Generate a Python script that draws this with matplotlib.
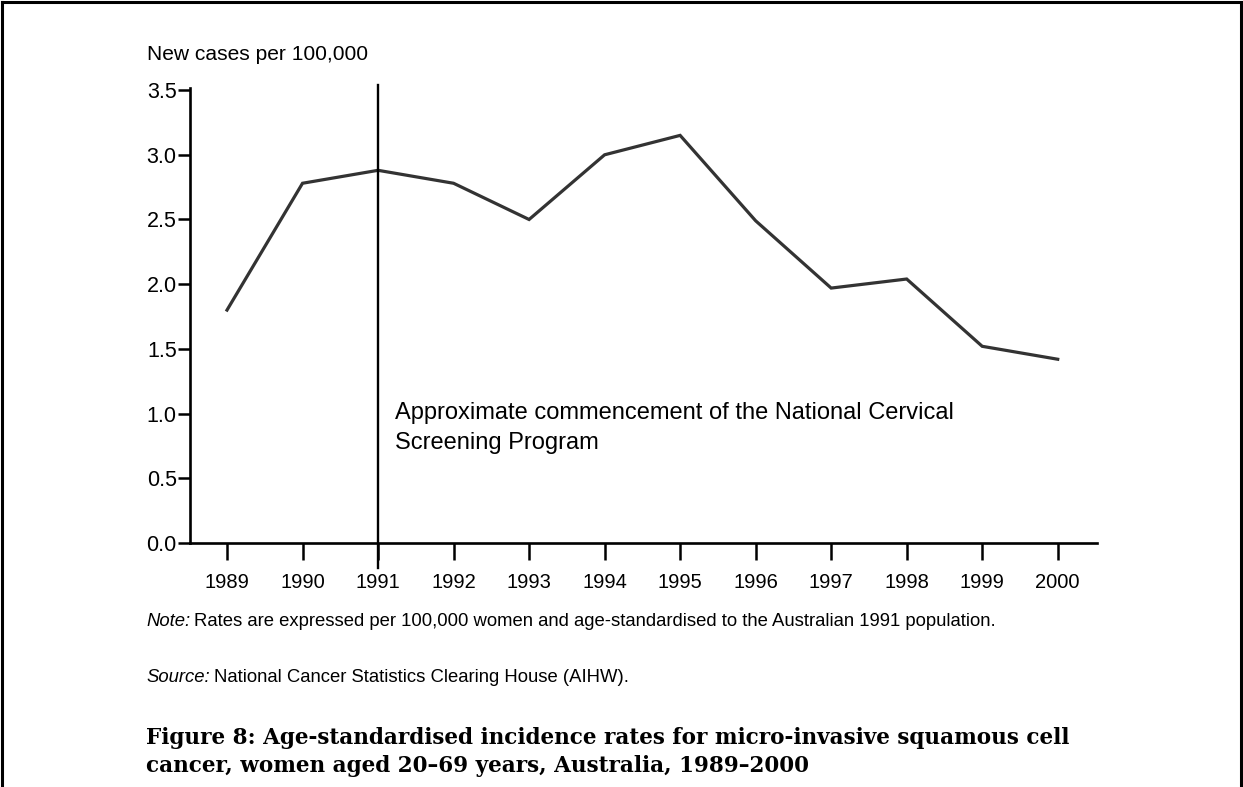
import matplotlib.pyplot as plt
from matplotlib.lines import Line2D

# data
years = [1989, 1990, 1991, 1992, 1993, 1994, 1995, 1996, 1997, 1998, 1999, 2000]
rates = [1.80, 2.78, 2.88, 2.78, 2.50, 3.00, 3.15, 2.49, 1.97, 2.04, 1.52, 1.42]
y_ticks = [0.0, 0.5, 1.0, 1.5, 2.0, 2.5, 3.0, 3.5]
screening_year = 1991

plt.rcParams["font.family"] = ["Liberation Sans", "DejaVu Sans"]

W, H = 1243, 787
fig = plt.figure(figsize=(W / 100, H / 100), dpi=100)

# axes placed in pixel terms
x0, x1 = 190, 1097
y_bot, y_top = 543, 87.5
ax = fig.add_axes([x0 / W, 1 - y_bot / H, (x1 - x0) / W, (y_bot - y_top) / H])

ax.plot(years, rates, color="#333333", linewidth=2.3, solid_joinstyle="miter")

# screening start marker, runs a bit past the x-axis
ax.plot([screening_year, screening_year], [-0.19, 3.54], color="black",
        linewidth=1.7, clip_on=False)
ax.text(screening_year + 0.22, 0.89,
        "Approximate commencement of the National Cervical\nScreening Program",
        fontsize=17, va="center", ha="left", linespacing=1.45)

ax.set_xlim(1988.51, 2000.52)
ax.set_ylim(0, 3.52)
ax.set_xticks(years)
ax.set_yticks(y_ticks)
ax.set_yticklabels([f"{v:.1f}" for v in y_ticks])

for s in ("top", "right"):
    ax.spines[s].set_visible(False)
for s in ("left", "bottom"):
    ax.spines[s].set_linewidth(1.9)
    ax.spines[s].set_color("black")

ax.tick_params(axis="x", direction="out", length=12.5, width=1.8,
               labelsize=14.5, pad=9)
ax.tick_params(axis="y", direction="out", length=8.6, width=1.8,
               labelsize=15.5, pad=1)

# header & footnotes
fig.text(147 / W, 1 - 54 / H, "New cases per 100,000", fontsize=15.1,
         va="center", ha="left")


def footnote(y_px, label, body, size=13.3):
    # italic lead word, plain text right after it
    lead = fig.text(146 / W, 1 - y_px / H, label, fontsize=size, va="center",
                    ha="left", style="italic")
    ax.annotate(body, xy=(1, 0.5), xycoords=lead, xytext=(3, 0),
                textcoords="offset points", fontsize=size, va="center", ha="left",
                annotation_clip=False)


footnote(622, "Note:",
         "Rates are expressed per 100,000 women and age-standardised to the Australian 1991 population.")
footnote(677, "Source:", "National Cancer Statistics Clearing House (AIHW).")

fig.text(146 / W, 1 - 752 / H,
         "Figure 8: Age-standardised incidence rates for micro-invasive squamous cell\n"
         "cancer, women aged 20\u201369 years, Australia, 1989\u20132000",
         fontsize=15.5, fontweight="bold", family=["DejaVu Serif"],
         va="center", ha="left", linespacing=1.4)

# page frame, open at the bottom
lw = 2.2
fig.add_artist(Line2D([2 / W, 2 / W], [0, 1 - 2 / H], color="black", linewidth=lw))
fig.add_artist(Line2D([2 / W, 1 - 2 / W], [1 - 2 / H, 1 - 2 / H], color="black", linewidth=lw))
fig.add_artist(Line2D([1 - 2 / W, 1 - 2 / W], [0, 1 - 2 / H], color="black", linewidth=lw))

fig.savefig("out.png", dpi=100)
